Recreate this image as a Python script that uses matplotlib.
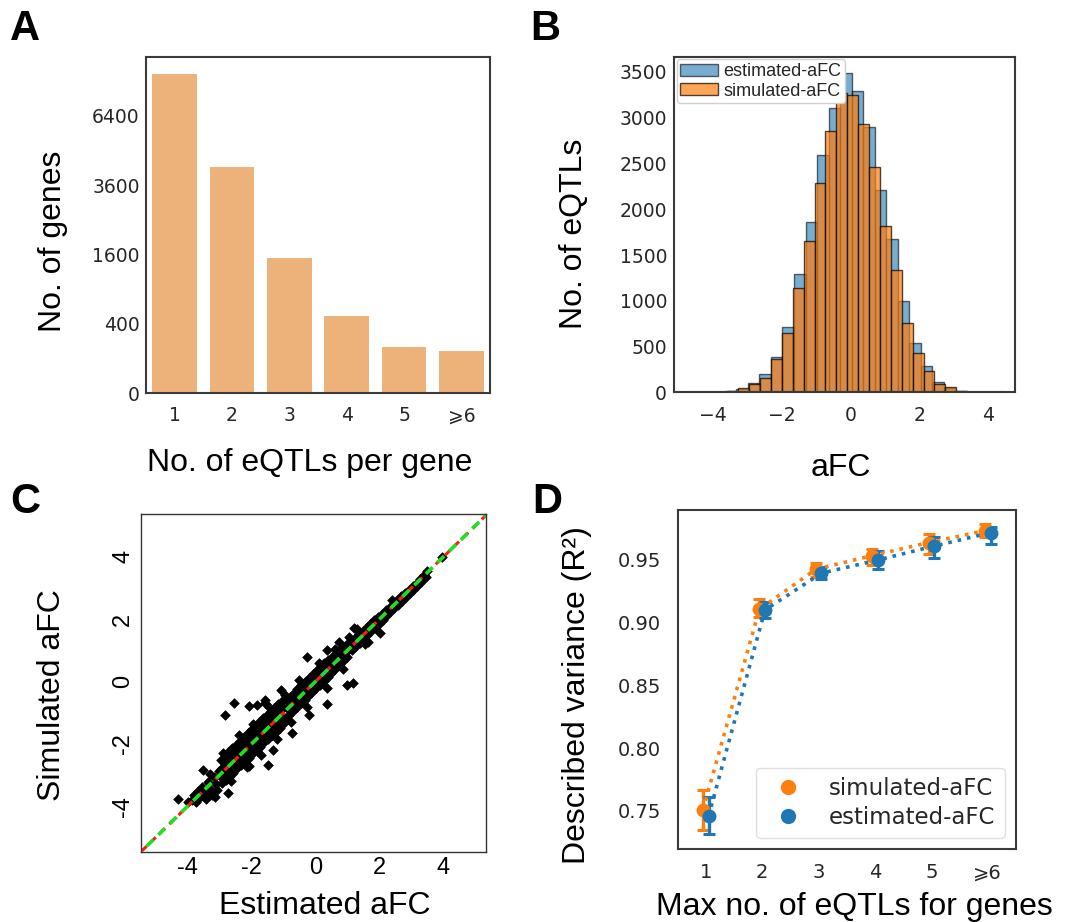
import numpy as np
import matplotlib
matplotlib.use("Agg")
import matplotlib.pyplot as plt
from matplotlib.lines import Line2D

plt.rcParams['font.family'] = ['DejaVu Sans']
ARIAL = ['Liberation Sans', 'DejaVu Sans']

# ---- panel A: genes by number of eQTLs ----
eqtl_groups = ['1', '2', '3', '4', '5', '⩾6']
genes_per_group = [8470, 4265, 1520, 496, 180, 149]

# ---- panel B: aFC histograms (30 equal bins over each range) ----
est_range = (-4.999, 5.051)
est_counts = [1, 1, 2, 5, 15, 40, 100, 207, 391, 718, 1293, 1864, 2591, 3101, 3482,
              3293, 2893, 2209, 1671, 1002, 545, 289, 118, 46, 16, 5, 2, 1, 1, 0]
sim_range = (-4.855, 4.655)
sim_counts = [0, 1, 3, 6, 16, 44, 89, 158, 365, 646, 1137, 1657, 2282, 2853, 3264,
              3246, 2929, 2464, 1820, 1336, 755, 428, 236, 95, 57, 16, 5, 2, 1, 1]
kde_span = [-4.67, 4.39]
kde_level = [0, 0]

# ---- panel C: estimated vs simulated aFC (est, sim) ----
afc_points = [
    (-3.85, -3.78), (-3.78, -3.62), (-3.72, -3.86), (-3.66, -3.50), (-3.60, -3.70),
    (-3.54, -3.38), (-3.48, -3.58), (-3.42, -3.76), (-3.36, -3.22), (-3.30, -3.44),
    (-3.24, -3.62), (-3.18, -3.05), (-3.12, -3.28), (-3.06, -3.48), (-3.02, -2.85),
    (-2.96, -2.52), (-2.94, -2.80), (-2.98, -3.04), (-2.92, -3.26),
    (-2.84, -2.40), (-2.82, -2.64), (-2.86, -2.93), (-2.80, -3.14),
    (-2.72, -2.26), (-2.70, -2.55), (-2.74, -2.80), (-2.68, -3.02),
    (-2.60, -2.12), (-2.58, -2.42), (-2.62, -2.68), (-2.56, -2.92),
    (-2.48, -2.02), (-2.46, -2.30), (-2.50, -2.57), (-2.44, -2.78),
    (-2.36, -1.90), (-2.34, -2.17), (-2.38, -2.44), (-2.32, -2.68),
    (-2.24, -1.78), (-2.22, -2.06), (-2.26, -2.33), (-2.20, -2.55),
    (-2.12, -1.66), (-2.10, -1.94), (-2.14, -2.20), (-2.08, -2.44),
    (-2.00, -1.55), (-1.98, -1.82), (-2.02, -2.08), (-1.96, -2.30),
    (-1.88, -1.42), (-1.86, -1.70), (-1.90, -1.96), (-1.84, -2.20),
    (-1.76, -1.30), (-1.74, -1.58), (-1.78, -1.84), (-1.72, -2.08),
    (-1.64, -1.18), (-1.62, -1.46), (-1.66, -1.72), (-1.60, -1.95),
    (-1.52, -1.06), (-1.50, -1.34), (-1.54, -1.60), (-1.48, -1.84),
    (-1.40, -0.95), (-1.38, -1.22), (-1.42, -1.48), (-1.36, -1.72),
    (-1.28, -0.84), (-1.26, -1.10), (-1.30, -1.36), (-1.24, -1.60),
    (-1.16, -0.72), (-1.14, -0.98), (-1.18, -1.24), (-1.12, -1.48),
    (-1.04, -0.62), (-1.02, -0.86), (-1.06, -1.12), (-1.00, -1.36),
    (-0.92, -0.60), (-0.90, -0.86), (-0.94, -1.18),
    (-0.80, -0.48), (-0.78, -0.74), (-0.82, -1.06),
    (-0.68, -0.36), (-0.66, -0.62), (-0.70, -0.94),
    (-0.56, -0.24), (-0.54, -0.50), (-0.58, -0.82),
    (-0.44, -0.12), (-0.42, -0.38), (-0.46, -0.70),
    (-0.32, 0.00), (-0.30, -0.26), (-0.34, -0.58),
    (-0.20, 0.12), (-0.18, -0.14), (-0.22, -0.46),
    (-0.08, 0.24), (-0.06, -0.02), (-0.10, -0.34),
    (0.04, 0.36), (0.06, 0.10), (0.02, -0.22),
    (0.16, 0.47), (0.18, 0.22), (0.14, -0.10),
    (0.28, 0.58), (0.30, 0.34), (0.26, 0.02),
    (0.40, 0.70), (0.42, 0.45), (0.38, 0.14),
    (0.52, 0.80), (0.54, 0.57), (0.50, 0.27),
    (0.64, 0.91), (0.66, 0.68), (0.62, 0.40),
    (0.76, 1.02), (0.78, 0.80), (0.74, 0.52),
    (0.88, 1.12), (0.90, 0.91), (0.86, 0.65),
    (1.00, 1.22), (1.02, 1.02), (0.98, 0.78),
    (1.12, 1.30), (1.14, 1.02), (1.24, 1.41), (1.26, 1.13), (1.36, 1.52), (1.38, 1.25),
    (1.48, 1.63), (1.50, 1.37), (1.60, 1.74), (1.62, 1.49), (1.72, 1.85), (1.74, 1.61),
    (1.84, 1.96), (1.86, 1.73), (1.96, 2.07), (1.98, 1.86), (2.08, 2.18), (2.10, 1.98),
    (2.20, 2.29), (2.22, 2.10), (2.32, 2.40), (2.34, 2.22), (2.44, 2.51), (2.46, 2.35),
    (2.56, 2.62), (2.58, 2.47), (2.68, 2.73), (2.70, 2.59), (2.80, 2.84), (2.82, 2.71),
    (2.92, 2.95), (2.94, 2.83), (3.04, 3.06), (3.06, 2.95), (3.16, 3.17), (3.18, 3.07),
    (3.28, 3.29), (3.30, 3.20), (3.40, 3.42), (3.44, 3.36), (3.50, 3.55),
    # ragged edge of the band
    (-3.30, -2.95), (-2.90, -2.30), (-2.65, -3.20), (-2.40, -1.70), (-2.15, -2.75),
    (-1.95, -1.35), (-1.70, -2.35), (-1.45, -0.80), (-1.20, -1.85), (-0.95, -0.42),
    (-0.75, -1.30), (-0.50, 0.05), (-0.25, -0.80), (0.10, 0.60), (0.35, -0.20),
    (0.60, 1.05), (0.85, 0.40), (1.30, 1.68), (1.55, 1.20), (2.40, 2.62),
    # scattered points off the main band
    (-2.54, -0.67), (-2.83, -1.07), (-2.07, -0.78), (-1.57, -0.67), (-1.83, -0.75),
    (-1.48, -2.67), (-2.73, -3.58), (-3.13, -3.69), (-4.29, -3.77), (-3.97, -3.85),
    (-0.25, 0.80), (0.37, 1.02), (0.35, -0.72), (-0.21, -1.07), (1.00, -0.11),
    (1.16, -0.05), (1.22, 1.71), (2.01, 1.55), (3.97, 3.99), (0.74, 1.28),
    (1.06, 1.44), (1.64, 1.28), (-1.06, -0.27), (-1.59, -0.59), (-3.50, -2.83),
    (-2.07, -2.72), (-0.74, -1.65), (-1.31, -2.19),
]
identity_line = [-6, 6]

# ---- panel D: described variance ----
max_eqtl = ['1', '2', '3', '4', '5', '⩾6']
r2_sim = [0.7508, 0.9100, 0.9418, 0.9527, 0.9630, 0.9725]
r2_sim_lo = [0.7349, 0.9037, 0.9360, 0.9452, 0.9537, 0.9672]
r2_sim_hi = [0.7667, 0.9180, 0.9466, 0.9577, 0.9698, 0.9778]
r2_est = [0.7460, 0.9095, 0.9387, 0.9492, 0.9603, 0.9709]
r2_est_lo = [0.7317, 0.9029, 0.9339, 0.9418, 0.9510, 0.9619]
r2_est_hi = [0.7609, 0.9161, 0.9434, 0.9566, 0.9672, 0.9756]

BLUE = '#1f77b4'
ORANGE = '#ff7f0e'
TXT = '#262626'

W, H = 1065, 922
fig = plt.figure(figsize=(W / 100, H / 100), dpi=100)


def px_axes(x0, y0, x1, y1):
    return fig.add_axes([x0 / W, 1 - y1 / H, (x1 - x0) / W, (y1 - y0) / H])


def px_text(x, y, s, **kw):
    fig.text(x / W, 1 - y / H, s, **kw)


def sea_frame(ax):
    for sp in ax.spines.values():
        sp.set_color('#3a3a3a')
        sp.set_linewidth(1.5)


axA = px_axes(146, 57.3, 490, 393.3)
axB = px_axes(674, 56.7, 1015, 392.5)
axC = px_axes(141, 514, 486, 851.7)
axD = px_axes(677.5, 510, 1016, 849.3)

# A
xa = np.arange(len(eqtl_groups))
axA.bar(xa, genes_per_group, width=0.78, color='#ECB27A')
axA.set_yscale('function', functions=(lambda v: np.sqrt(np.clip(v, 0, None)), np.square))
axA.set_ylim(0, 9375)
axA.set_xlim(-0.5, 5.5)
axA.set_yticks([0, 400, 1600, 3600, 6400])
axA.set_yticklabels(['0', '400', '1600', '3600', '6400'])
axA.set_xticks(xa)
axA.set_xticklabels(eqtl_groups)
axA.tick_params(axis='x', length=0, pad=9.5, labelsize=13.5, colors=TXT)
axA.tick_params(axis='y', length=0, pad=4.5, labelsize=13.5, colors=TXT)
sea_frame(axA)

# B
est_edges = np.linspace(est_range[0], est_range[1], len(est_counts) + 1)
sim_edges = np.linspace(sim_range[0], sim_range[1], len(sim_counts) + 1)
axB.hist((est_edges[:-1] + est_edges[1:]) / 2, bins=est_edges, weights=est_counts,
         color=BLUE, alpha=0.6, edgecolor='black', linewidth=1.0, label='estimated-aFC')
axB.hist((sim_edges[:-1] + sim_edges[1:]) / 2, bins=sim_edges, weights=sim_counts,
         color=ORANGE, alpha=0.7, edgecolor='black', linewidth=1.0, label='simulated-aFC')
axB.plot(kde_span, kde_level, color='#2f6f55', lw=1.5)
axB.set_xlim(-5.14, 4.78)
axB.set_ylim(0, 3664)
axB.set_xticks([-4, -2, 0, 2, 4])
axB.set_yticks(range(0, 3501, 500))
axB.tick_params(axis='x', length=0, pad=10, labelsize=13.5, colors=TXT)
axB.tick_params(axis='y', length=0, pad=5, labelsize=13.5, colors=TXT)
leg = axB.legend(loc='upper left', prop={'family': ARIAL, 'size': 13}, borderaxespad=0.15,
                 borderpad=0.2, labelspacing=0.15, handlelength=2.1, handleheight=0.65,
                 handletextpad=0.3, fancybox=True, framealpha=1, edgecolor='#d0d0d0')
for t in leg.get_texts():
    t.set_color(TXT)
sea_frame(axB)

# C
est_afc = [p[0] for p in afc_points]
sim_afc = [p[1] for p in afc_points]
axC.scatter(est_afc, sim_afc, marker='D', s=24, c='black', linewidths=0.5, edgecolors='black')
axC.plot(identity_line, identity_line, color='#ff1a1a', lw=2.2, dashes=(2.2, 2.0))
axC.plot(identity_line, identity_line, color='#1ee01e', lw=2.6, dashes=(2.6, 1.9))
axC.set_xlim(-5.45, 5.33)
axC.set_ylim(-5.45, 5.37)
axC.set_xticks([-4, -2, 0, 2, 4])
axC.set_yticks([-4, -2, 0, 2, 4])
axC.set_xticklabels(['-4', '-2', '0', '2', '4'])
axC.set_yticklabels(['-4', '-2', '0', '2', '4'], rotation=90, va='center')
axC.tick_params(length=0, labelsize=17, colors='black', labelfontfamily='Liberation Sans')
axC.tick_params(axis='x', pad=4)
axC.tick_params(axis='y', pad=5)
for sp in axC.spines.values():
    sp.set_color('#333333')
    sp.set_linewidth(1.0)

# D
pos = np.arange(1, len(max_eqtl) + 1)
r2_sim_a = np.array(r2_sim)
r2_est_a = np.array(r2_est)
axD.errorbar(pos - 0.05, r2_sim_a,
             yerr=[r2_sim_a - np.array(r2_sim_lo), np.array(r2_sim_hi) - r2_sim_a],
             fmt='o', ls=':', color=ORANGE, ms=9, lw=2.6, elinewidth=2.4, capsize=4, capthick=2.2)
axD.errorbar(pos + 0.05, r2_est_a,
             yerr=[r2_est_a - np.array(r2_est_lo), np.array(r2_est_hi) - r2_est_a],
             fmt='o', ls=':', color=BLUE, ms=9, lw=2.6, elinewidth=2.4, capsize=4, capthick=2.2)
axD.set_xlim(0.5, 6.5)
axD.set_ylim(0.7196, 0.9889)
axD.set_xticks(pos)
axD.set_xticklabels(max_eqtl)
axD.set_yticks([0.75, 0.80, 0.85, 0.90, 0.95])
axD.set_yticklabels(['0.75', '0.80', '0.85', '0.90', '0.95'])
axD.tick_params(axis='x', length=0, pad=10, labelsize=14, colors=TXT)
axD.tick_params(axis='y', length=0, pad=12, labelsize=14, colors=TXT)
handles = [Line2D([], [], marker='o', ls='none', color=ORANGE, ms=10),
           Line2D([], [], marker='o', ls='none', color=BLUE, ms=10)]
legD = axD.legend(handles, ['simulated-aFC', 'estimated-aFC'], loc='lower right',
                  prop={'size': 16.5}, labelspacing=0.25, handlelength=2.0,
                  fancybox=True, framealpha=1, edgecolor='#e0e0e0')
for t in legD.get_texts():
    t.set_color(TXT)
sea_frame(axD)

# axis labels
lab = dict(family=ARIAL, size=23, color='black')
px_text(310, 471, 'No. of eQTLs per gene', ha='center', va='baseline', **lab)
px_text(841, 476, 'aFC', ha='center', va='baseline', **lab)
px_text(324.6, 914, 'Estimated aFC', ha='center', va='baseline', **lab)
px_text(854, 915, 'Max no. of eQTLs for genes', ha='center', va='baseline', **lab)
px_text(53, 241, 'No. of genes', ha='center', va='center', rotation=90, **lab)
px_text(574, 233.5, 'No. of eQTLs', ha='center', va='center', rotation=90, **lab)
px_text(52, 695.5, 'Simulated aFC', ha='center', va='center', rotation=90, **lab)
px_text(577, 695, 'Described variance (R²)', ha='center', va='center', rotation=90, **lab)

# panel letters
let = dict(family=ARIAL, size=30, weight='bold', color='black', ha='left', va='baseline')
px_text(10, 40.5, 'A', **let)
px_text(530.5, 40, 'B', **let)
px_text(10, 512.7, 'C', **let)
px_text(532, 513, 'D', **let)

fig.savefig('out.png', dpi=100)
